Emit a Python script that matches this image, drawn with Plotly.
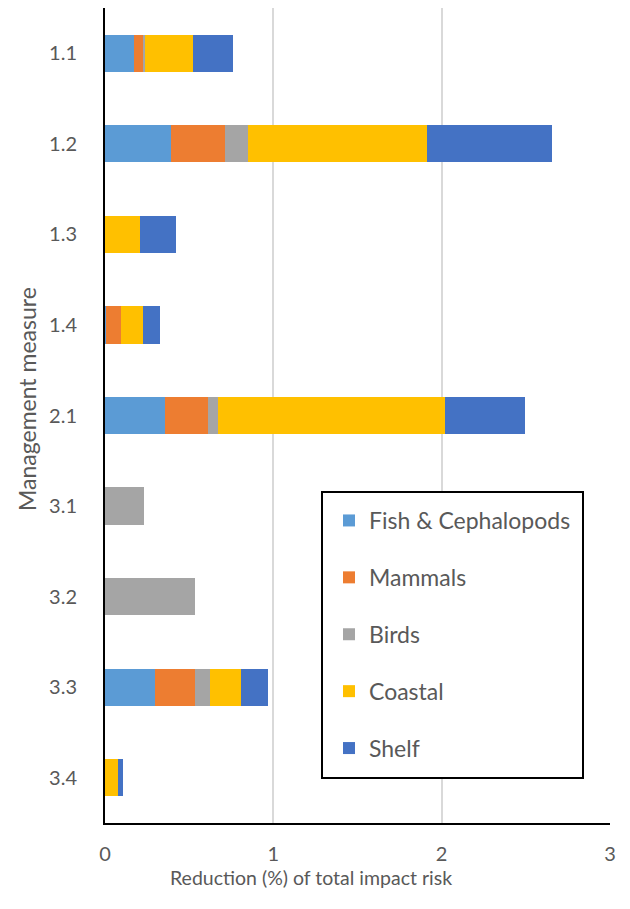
import plotly.graph_objects as go

measures = ["1.1", "1.2", "1.3", "1.4", "2.1", "3.1", "3.2", "3.3", "3.4"]
fish = [0.175, 0.393, 0.0, 0.005, 0.359, 0.0, 0.0, 0.296, 0.0]
mammals = [0.049, 0.320, 0.0, 0.091, 0.251, 0.0, 0.0, 0.241, 0.0]
birds = [0.014, 0.135, 0.0, 0.0, 0.064, 0.232, 0.537, 0.087, 0.0]
coastal = [0.283, 1.064, 0.207, 0.128, 1.343, 0.0, 0.0, 0.184, 0.080]
shelf = [0.238, 0.746, 0.217, 0.103, 0.480, 0.0, 0.0, 0.160, 0.024]

series = [
    ("Fish & Cephalopods", fish, "#5B9BD5"),
    ("Mammals", mammals, "#ED7D31"),
    ("Birds", birds, "#A5A5A5"),
    ("Coastal", coastal, "#FFC000"),
    ("Shelf", shelf, "#4472C4"),
]

FONT = "Lato, 'Open Sans', sans-serif"
TXT = "#595959"

# plot area in pixels
PL, PR, PT, PB = 105, 610, 8, 823
def px_x(p):
    return (p - PL) / (PR - PL)
def px_y(p):
    return 1 - (p - PT) / (PB - PT)

fig = go.Figure()
for i, (name, vals, col) in enumerate(series):
    fig.add_trace(go.Bar(
        y=measures, x=vals, name=name, orientation="h",
        marker=dict(color=col, line=dict(width=0)),
        width=0.41, legendgroup=f"g{i}",
    ))

# legend frame
fig.add_shape(type="rect", xref="paper", yref="paper",
              x0=px_x(322), x1=px_x(583), y0=px_y(778), y1=px_y(492),
              fillcolor="white", line=dict(color="black", width=2), layer="above")

fig.add_annotation(text="Management measure", xref="paper", yref="paper",
                   x=px_x(27), y=px_y(399), textangle=-90, showarrow=False,
                   xanchor="center", yanchor="middle",
                   font=dict(size=23, color=TXT, family=FONT))
fig.add_annotation(text="Reduction (%) of total impact risk", xref="paper", yref="paper",
                   x=px_x(311), y=px_y(877), showarrow=False,
                   xanchor="center", yanchor="middle",
                   font=dict(size=19.5, color=TXT, family=FONT))

fig.update_layout(
    barmode="stack",
    width=630, height=909,
    margin=dict(l=PL, r=630 - PR, t=PT, b=909 - PB),
    plot_bgcolor="white", paper_bgcolor="white",
    font=dict(family=FONT, color=TXT, size=20),
    showlegend=True,
    legend=dict(
        x=px_x(329), y=px_y(499),
        xanchor="left", yanchor="top",
        borderwidth=0,
        bgcolor="rgba(0,0,0,0)",
        font=dict(size=23, color=TXT, family=FONT),
        tracegroupgap=24,
        traceorder="grouped",
    ),
    xaxis=dict(
        range=[0, 3], tickvals=[0, 1, 2, 3], ticktext=["0", "1", "2", "3"],
        showgrid=True, gridcolor="#D9D9D9", gridwidth=2,
        zeroline=False, showline=True, linecolor="black", linewidth=2,
        ticks="outside", ticklen=12, tickcolor="rgba(0,0,0,0)",
        tickfont=dict(size=20, color=TXT),
        fixedrange=True,
    ),
    yaxis=dict(
        type="category", categoryorder="array", categoryarray=measures,
        autorange="reversed",
        showgrid=False, zeroline=False,
        showline=True, linecolor="black", linewidth=2,
        ticks="outside", ticklen=22, tickcolor="rgba(0,0,0,0)",
        tickfont=dict(size=20, color=TXT),
    ),
)

fig.write_html("out.html")
